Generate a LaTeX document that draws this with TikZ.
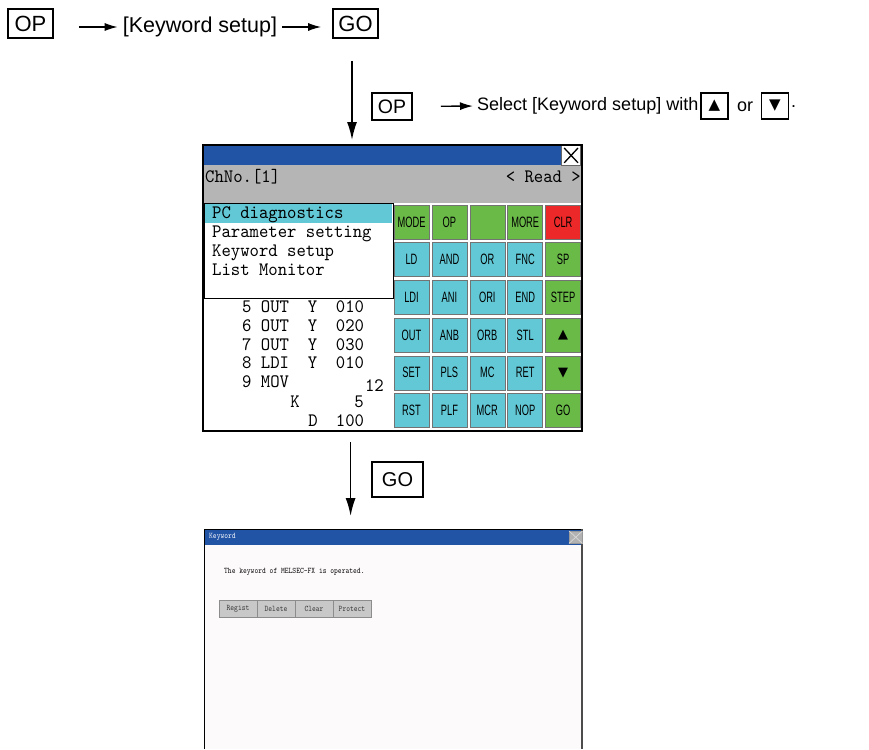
\documentclass[tikz,border=0pt]{standalone}
\usepackage{fontspec}
\setmainfont{Liberation Sans}
\newfontfamily\btnfont{Liberation Sans}[FakeStretch=0.62]
\newfontfamily\scrfont{lmmono10-regular}[Extension=.otf,FakeStretch=0.94]
\newfontfamily\smallscr{lmmono10-regular}[Extension=.otf,FakeStretch=0.85]
\newfontfamily\dejavu{DejaVu Sans}
\usetikzlibrary{arrows.meta}
\definecolor{titleblue}{RGB}{34,84,166}
\definecolor{panelgray}{RGB}{181,181,181}
\definecolor{kcyan}{RGB}{98,200,214}
\definecolor{kgreen}{RGB}{106,186,72}
\definecolor{kred}{RGB}{236,40,40}
\definecolor{pagepink}{RGB}{253,250,251}
\definecolor{btngray}{RGB}{200,200,200}
\newcommand\upsym{{\dejavu\fontsize{13}{13}\selectfont ▲}}
\newcommand\dnsym{{\dejavu\fontsize{13}{13}\selectfont ▼}}
\newcommand\bigup{{\dejavu\fontsize{15}{15}\selectfont ▲}}
\newcommand\bigdn{{\dejavu\fontsize{15}{15}\selectfont ▼}}
\begin{document}
\begin{tikzpicture}[x=1pt,y=-1pt,
  keybox/.style={draw, line width=1.6pt, inner sep=0pt},
  harr/.style={line width=1.4pt, -{Latex[length=13pt,width=8pt]}},
  varr/.style={line width=1.6pt, -{Latex[length=18pt,width=10pt]}},
  lbl/.style={inner sep=0pt},
  scrtext/.style={inner sep=0pt, anchor=west, text height=11pt, text depth=1pt,
    font=\scrfont\fontsize{19}{19}\selectfont},
  smalltext/.style={inner sep=0pt, font=\smallscr\fontsize{8.5}{8.5}\selectfont},
  kbtn/.style={draw=black!55, line width=0.6pt, minimum width=35pt, minimum height=34pt,
    inner sep=0pt, font=\btnfont\fontsize{15}{15}\selectfont},
  gbtn/.style={draw=black!45, fill=btngray, line width=0.6pt, minimum width=38pt,
    minimum height=17pt, inner sep=0pt, text=black!80, font=\smallscr\fontsize{8.5}{8.5}\selectfont}
]
\useasboundingbox (0,0) rectangle (869,749);

% ---------- top row ----------
\node[keybox, minimum width=45pt, minimum height=29pt, font=\fontsize{22}{22}\selectfont] (op1) at (30.5,23.5) {OP};
\node[lbl, font=\fontsize{21.5}{21.5}\selectfont] (kw1) at (200,27) {[Keyword setup]};
\node[keybox, minimum width=45pt, minimum height=29pt, font=\fontsize{22}{22}\selectfont] (go1) at (355.5,23.5) {GO};
\draw[harr, shorten <=25pt, shorten >=5pt] (op1.east |- kw1.west) -- (kw1.west);
\draw[harr, shorten <=5pt, shorten >=11pt] (kw1.east) -- (go1.west |- kw1.east);

% ---------- second line ----------
\node[keybox, minimum width=40pt, minimum height=27pt, font=\fontsize{19.5}{19.5}\selectfont] (op2) at (392,106.5) {OP};
\node[lbl, anchor=west, font=\fontsize{18}{18}\selectfont] (sel) at (477,106) {Select [Keyword setup] with};
\draw[harr, shorten <=28pt, shorten >=4pt] (op2.east) -- (sel.west);
\node[keybox, minimum width=27pt, minimum height=26pt] (up) at (714.5,106) {\bigup};
\node[lbl, font=\fontsize{18}{18}\selectfont] (or) at (745,107) {or};
\node[keybox, minimum width=27pt, minimum height=26pt] (dn) at (775,106) {\bigdn};
\node[lbl, anchor=west, font=\fontsize{18}{18}\selectfont] (dot) at (791,107) {.};

% ---------- screen 1 ----------
\node[draw, line width=1.2pt, fill=white, minimum width=378pt, minimum height=285pt,
  inner sep=0pt, anchor=north west] (scr1) at (203,145) {};
\fill[titleblue] (203,145) rectangle (562,165);
\fill[panelgray] (203,165) rectangle (581,203);
\node[draw=black!60, line width=0.8pt, fill=white, minimum width=19pt, minimum height=20pt,
  inner sep=0pt, anchor=north east] (x1) at (581,145) {};
\draw[line width=1.3pt] ([shift={(3pt,-3pt)}]x1.north west) -- ([shift={(-3pt,3pt)}]x1.south east);
\draw[line width=1.3pt] ([shift={(3pt,3pt)}]x1.south west) -- ([shift={(-3pt,-3pt)}]x1.north east);
\node[scrtext] (chno) at (205,177) {ChNo.[1]};
\node[scrtext, anchor=east] (read) at (581,177) {<~Read~>};

\node[draw, line width=1pt, fill=white, minimum width=189pt, minimum height=95pt,
  inner sep=0pt, anchor=north west] (menu) at (204,203) {};
\fill[kcyan] (205,204) rectangle (392,223);
\node[scrtext] (m1) at (212,213) {PC~diagnostics};
\node[scrtext] (m2) at (212,232) {Parameter~setting};
\node[scrtext] (m3) at (212,251) {Keyword~setup};
\node[scrtext] (m4) at (212,270) {List~Monitor};

\node[scrtext] (p5) at (242,307) {5~OUT~~Y~~010};
\node[scrtext] (p6) at (242,326) {6~OUT~~Y~~020};
\node[scrtext] (p7) at (242,345) {7~OUT~~Y~~030};
\node[scrtext] (p8) at (242,363) {8~LDI~~Y~~010};
\node[scrtext] (p9) at (242,382) {9~MOV};
\node[scrtext, anchor=east] (p9v) at (384,386) {12};
\node[scrtext, anchor=center] (pk) at (295,402) {K};
\node[scrtext, anchor=center] (pkv) at (359,402) {5};
\node[scrtext, anchor=center] (pd) at (313,421) {D};
\node[scrtext, anchor=center] (pdv) at (350,421) {100};

\foreach \r/\c/\cl/\t in {
 1/1/kgreen/MODE,1/2/kgreen/OP,1/3/kgreen/{},1/4/kgreen/MORE,1/5/kred/CLR,
 2/1/kcyan/LD,2/2/kcyan/AND,2/3/kcyan/OR,2/4/kcyan/FNC,2/5/kgreen/SP,
 3/1/kcyan/LDI,3/2/kcyan/ANI,3/3/kcyan/ORI,3/4/kcyan/END,3/5/kgreen/STEP,
 4/1/kcyan/OUT,4/2/kcyan/ANB,4/3/kcyan/ORB,4/4/kcyan/STL,4/5/kgreen/\upsym,
 5/1/kcyan/SET,5/2/kcyan/PLS,5/3/kcyan/MC,5/4/kcyan/RET,5/5/kgreen/\dnsym,
 6/1/kcyan/RST,6/2/kcyan/PLF,6/3/kcyan/MCR,6/4/kcyan/NOP,6/5/kgreen/GO}
 \node[kbtn, fill=\cl] (k\r\c) at ({411.5+37.9*(\c-1)},{222+37.7*(\r-1)}) {\t};

\draw[line width=1.2pt] (scr1.north west) rectangle (scr1.south east);

% ---------- arrow to screen 2 ----------
\node[minimum width=379pt, minimum height=220pt, inner sep=0pt, anchor=north west] (scr2) at (204,529) {};
\draw[varr, shorten <=22pt, shorten >=5pt] ([xshift=-3.5pt]go1.south) -- ([xshift=-3.5pt]go1.south |- scr1.north);
\draw[varr, shorten <=11pt, shorten >=13pt] ([xshift=-42pt]scr1.south) -- ([xshift=-42pt]scr1.south |- scr2.north);
\node[keybox, minimum width=51pt, minimum height=35pt, font=\fontsize{20}{20}\selectfont] (go2) at (397.5,479.5) {GO};

% ---------- screen 2 ----------
\fill[pagepink] (204,529) rectangle (583,749);
\fill[titleblue] (205,530) rectangle (582,545);
\draw[line width=1pt] (204,749) -- (204,529) -- (583,529);
\draw[line width=2pt, black!70] (582,529) -- (582,749);
\node[smalltext, anchor=west, text=white] (kwt) at (209,537) {Keyword};
\node[draw=black!40, fill=black!30, minimum width=13pt, minimum height=12pt, inner sep=0pt, anchor=north west] (x2) at (569,531) {};
\draw[black!15, line width=0.7pt] (x2.north west) -- (x2.south east);
\draw[black!15, line width=0.7pt] (x2.south west) -- (x2.north east);
\node[smalltext, anchor=west] (msg) at (224,572) {The keyword of MELSEC-FX is operated.};
\foreach \i/\t in {0/Regist,1/Delete,2/Clear,3/Protect}
 \node[gbtn] (g\i) at ({238+38*\i},608.5) {\t};
\end{tikzpicture}
\end{document}
